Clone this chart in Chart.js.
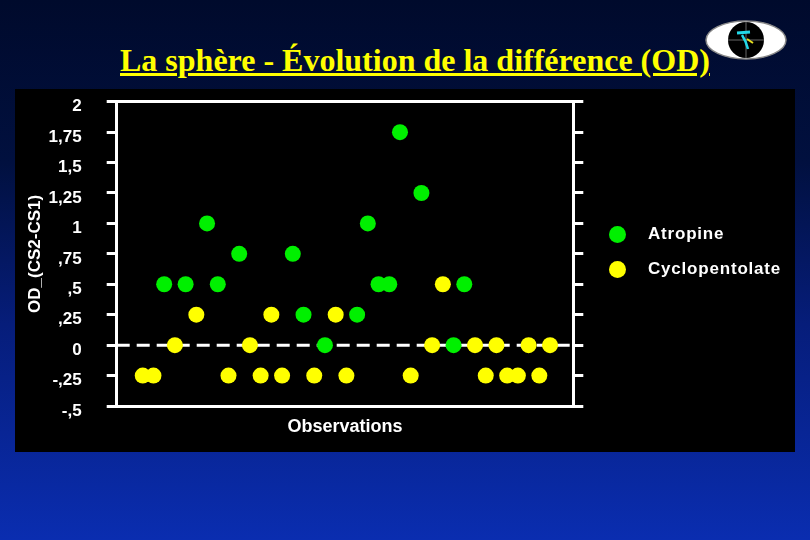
<!DOCTYPE html>
<html>
<head>
<meta charset="utf-8">
<script src="https://cdn.jsdelivr.net/npm/chart.js"></script>
<style>
  body {
    margin: 0;
    width: 810px;
    height: 540px;
    overflow: hidden;
    position: relative;
    background: linear-gradient(to bottom, #000a2c 0%, #01103f 30%, #061d7a 60%, #0a2db0 100%);
    font-family: "Liberation Sans", Arial, sans-serif;
  }
  #title {
    position: absolute;
    left: 120px;
    top: 44px;
    font-family: "Liberation Serif", "Times New Roman", serif;
    font-weight: bold;
    font-size: 32px;
    line-height: 32px;
    color: #ffff00;
    text-decoration: underline;
    white-space: nowrap;
  }
  #logo { position: absolute; left: 700px; top: 15px; }
  #panel {
    position: absolute;
    left: 15px;
    top: 89px;
    width: 780px;
    height: 363px;
    background: #000;
  }
  #legend {
    position: absolute;
    left: 609px;
    top: 222px;
    color: #fff;
    font-weight: bold;
    font-size: 17px;
    letter-spacing: 0.8px;
  }
  .item { display: flex; align-items: center; height: 24px; margin-bottom: 11px; }
  .dot { width: 17px; height: 17px; border-radius: 50%; margin-right: 22px; }
</style>
</head>
<body>
  <div id="title">La sphère - Évolution de la différence (OD)</div>

  <svg id="logo" width="92" height="50">
    <ellipse cx="46" cy="25" rx="40" ry="19" fill="#fff" stroke="#888" stroke-width="1.5"/>
    <circle cx="46" cy="25" r="18" fill="#000"/>
    <line x1="46" y1="7" x2="46" y2="43" stroke="#666" stroke-width="1"/>
    <line x1="28" y1="25" x2="64" y2="25" stroke="#666" stroke-width="1"/>
    <path d="M37 18 L50 17" stroke="#22d8e8" stroke-width="3" fill="none"/>
    <path d="M42 20 Q46 26 48 34" stroke="#22d8e8" stroke-width="2.5" fill="none"/>
    <path d="M47 24 L53 28" stroke="#e8e020" stroke-width="2" fill="none"/>
  </svg>

  <div id="panel">
    <canvas id="chart" width="780" height="363"></canvas>
  </div>

  <div id="legend"></div>

<script>
  // Observation numbers and OD differences (CS2 - CS1)
  const atropineObs = [3, 5, 7, 8, 10, 15, 16, 18, 21, 22, 23, 24, 25, 27, 30, 31];
  const atropineOD = [0.5, 0.5, 1, 0.5, 0.75, 0.75, 0.25, 0, 0.25, 1, 0.5, 0.5, 1.75, 1.25, 0, 0.5];

  const cycloObs = [1, 2, 4, 6, 9, 11, 12, 13, 14, 17, 19, 20, 26, 28, 29, 32, 33, 34, 35, 36, 37, 38, 39];
  const cycloOD = [-0.25, -0.25, 0, 0.25, -0.25, 0, -0.25, 0.25, -0.25, -0.25, 0.25, -0.25,
                   -0.25, 0, 0.5, 0, -0.25, 0, -0.25, -0.25, 0, -0.25, 0];

  const seriesNames = ['Atropine', 'Cyclopentolate'];
  const seriesColors = ['#00f000', '#ffff00'];

  const yTickLabels = ['-,5', '-,25', '0', ',25', ',5', ',75', '1', '1,25', '1,5', '1,75', '2'];
  const yMin = -0.5, yMax = 2, yStep = 0.25;
  const xMin = -1.43, xMax = 41.17;
  const zeroLine = 0;

  const fam = '"Liberation Sans", Arial, sans-serif';

  function toPoints(xs, ys) {
    return xs.map((x, i) => ({ x: x, y: ys[i] }));
  }

  // keep the plot box where it is in the slide, labels may overhang
  function fixWidth(w) {
    return s => { s.width = w; s.paddingTop = 0; s.paddingBottom = 0; };
  }

  new Chart(document.getElementById('chart').getContext('2d'), {
    type: 'scatter',
    data: {
      datasets: [
        {
          label: seriesNames[0],
          data: toPoints(atropineObs, atropineOD),
          backgroundColor: seriesColors[0],
          borderWidth: 0,
          pointRadius: 8,
          order: 1
        },
        {
          label: seriesNames[1],
          data: toPoints(cycloObs, cycloOD),
          backgroundColor: seriesColors[1],
          borderWidth: 0,
          pointRadius: 8,
          order: 2
        },
        {
          type: 'line',
          label: 'zero',
          data: [{ x: xMin, y: zeroLine }, { x: xMax, y: zeroLine }],
          borderColor: '#fff',
          borderWidth: 3,
          borderDash: [13, 7],
          pointRadius: 0,
          order: 3
        }
      ]
    },
    options: {
      responsive: false,
      animation: false,
      layout: { padding: { left: 0, right: 211.7, top: 12.7, bottom: 0 } },
      plugins: { legend: { display: false }, tooltip: { enabled: false } },
      scales: {
        x: {
          type: 'linear', position: 'bottom', min: xMin, max: xMax,
          ticks: { display: false },
          grid: { drawOnChartArea: false, drawTicks: false },
          border: { color: '#fff', width: 3 },
          title: {
            display: true, text: 'Observations', color: '#fff',
            font: { family: fam, size: 18, weight: 'bold' },
            padding: { top: 0, bottom: 14 }
          },
          afterFit: s => { s.height = 46; s.paddingLeft = 0; s.paddingRight = 0; }
        },
        x2: {
          type: 'linear', position: 'top', min: xMin, max: xMax,
          ticks: { display: false },
          grid: { drawOnChartArea: false, drawTicks: false },
          border: { color: '#fff', width: 3 },
          afterFit: s => { s.height = 0; s.paddingLeft = 0; s.paddingRight = 0; }
        },
        y: {
          position: 'left', min: yMin, max: yMax,
          ticks: {
            stepSize: yStep, autoSkip: false, color: '#fff', padding: 25, labelOffset: 5,
            font: { family: fam, size: 17, weight: 'bold' },
            callback: (v, i) => yTickLabels[i]
          },
          grid: { drawOnChartArea: false, drawTicks: true, tickLength: 10, color: '#fff', lineWidth: 3 },
          border: { color: '#fff', width: 3 },
          title: {
            display: true, text: 'OD_(CS2-CS1)', color: '#fff',
            font: { family: fam, size: 17, weight: 'bold' },
            padding: { top: 10, bottom: 0 }
          },
          afterFit: fixWidth(101.7)
        },
        y2: {
          position: 'right', min: yMin, max: yMax,
          ticks: { stepSize: yStep, display: false },
          grid: { drawOnChartArea: false, drawTicks: true, tickLength: 10, color: '#fff', lineWidth: 3 },
          border: { color: '#fff', width: 3 },
          afterFit: fixWidth(10)
        }
      }
    }
  });

  // legend next to the plot
  const legend = document.getElementById('legend');
  seriesNames.forEach((name, i) => {
    const row = document.createElement('div');
    row.className = 'item';
    row.innerHTML = '<span class="dot" style="background:' + seriesColors[i] + '"></span><span>' + name + '</span>';
    legend.appendChild(row);
  });
</script>
</body>
</html>
